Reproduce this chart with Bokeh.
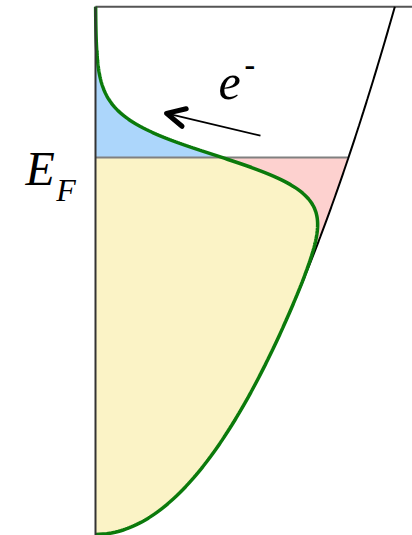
import numpy as np
from bokeh.plotting import figure
from bokeh.models import Range1d, Arrow, OpenHead
from bokeh.core.properties import value
from bokeh.embed import file_html
from bokeh.resources import INLINE

# Free-electron density of states g(E) ~ sqrt(E), filled by the Fermi-Dirac
# distribution at a finite temperature. Energies are in units of E_F.
e_fermi = 1.0          # Fermi level
kT = 0.052             # thermal energy
e_top = 1.40           # top of the drawn energy window
dos_at_fermi = 1.0     # g(E_F), sets the horizontal scale

def dos(e):
    return dos_at_fermi * np.sqrt(np.clip(e, 0, None) / e_fermi)

def fermi(e):
    return 1.0 / (1.0 + np.exp((e - e_fermi) / kT))

e_all = np.linspace(0.0, e_top, 700)
e_low = np.linspace(0.0, e_fermi, 400)
e_high = np.linspace(e_fermi, e_top, 300)

p = figure(width=412, height=535, title=None,
           x_range=Range1d(-0.3755, 1.253), y_range=Range1d(-0.00265, 1.4164),
           min_border=0, toolbar_location=None, output_backend="svg",
           x_axis_location=None, y_axis_location=None)
p.grid.visible = False
p.outline_line_color = None
p.background_fill_color = "white"
p.border_fill_color = "white"

# occupied states below E_F, empty states below E_F, excited electrons above E_F
p.harea(y=e_low, x1=np.zeros_like(e_low), x2=dos(e_low) * fermi(e_low),
        fill_color="#fbf3c6")
p.harea(y=e_low, x1=dos(e_low) * fermi(e_low), x2=dos(e_low),
        fill_color="#fdd1cf")
p.harea(y=e_high, x1=np.zeros_like(e_high), x2=dos(e_high) * fermi(e_high),
        fill_color="#acd6fb")

# Fermi level
p.segment(x0=[0], y0=[e_fermi], x1=[dos(e_fermi)], y1=[e_fermi],
          line_color="#808080", line_width=2)
# top edge of the energy window
p.segment(x0=[0], y0=[e_top], x1=[1.3], y1=[e_top],
          line_color="#555555", line_width=2)

# density of states
p.line(dos(e_all), e_all, line_color="black", line_width=2)
# occupied density of states
p.line(dos(e_all) * fermi(e_all), e_all, line_color="#0b7a0b", line_width=3.5)

# energy axis
p.segment(x0=[0], y0=[-0.01], x1=[0], y1=[e_top],
          line_color="#333333", line_width=2)

serif = value("Liberation Serif")
p.text(x=[-0.2767], y=[0.971], text=["E"], text_font=serif,
       text_font_style="italic", text_font_size="48px",
       text_baseline="alphabetic", text_align="left", text_color="black")
p.text(x=[-0.155], y=[0.9125], text=["F"], text_font=serif,
       text_font_style="italic", text_font_size="32px",
       text_baseline="alphabetic", text_align="left", text_color="black")
p.text(x=[0.486], y=[1.199], text=["e"], text_font=serif,
       text_font_style="italic", text_font_size="50px",
       text_baseline="alphabetic", text_align="left", text_color="black")
p.text(x=[0.589], y=[1.2467], text=["-"], text_font=serif,
       text_font_style="bold", text_font_size="32px",
       text_baseline="alphabetic", text_align="left", text_color="black")

# electron moving up across the Fermi level
p.add_layout(Arrow(x_start=0.652, y_start=1.058, x_end=0.281, y_end=1.117,
                   line_color="black", line_width=1.8,
                   end=OpenHead(size=18, line_width=5, line_color="black",
                                line_cap="round", line_join="round")))

open("out.html", "w").write(file_html(p, INLINE))
